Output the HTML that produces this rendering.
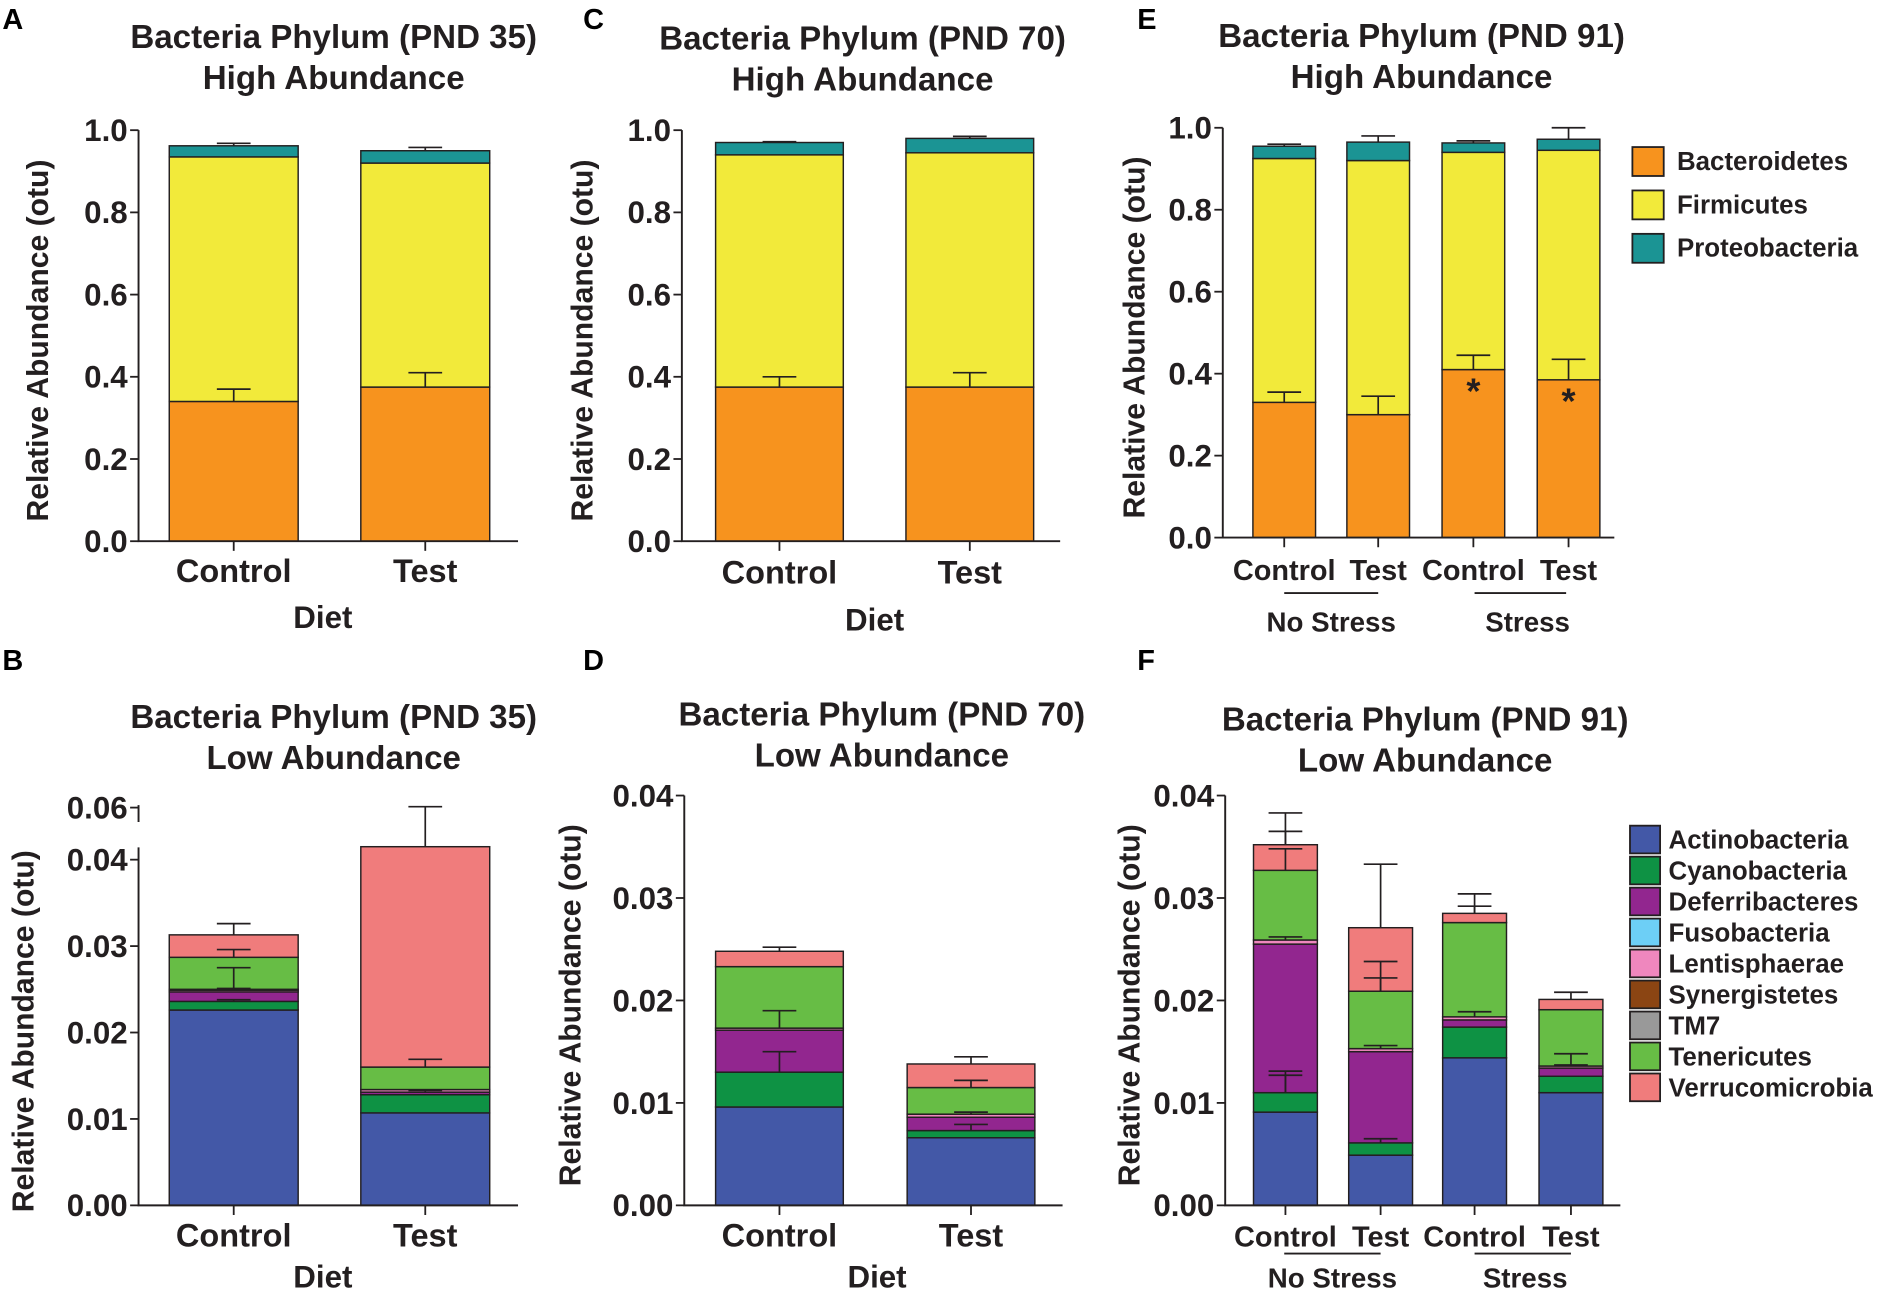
<!DOCTYPE html>
<html><head><meta charset="utf-8"><style>
html,body{margin:0;padding:0;background:#fff;}
svg{display:block;font-family:"Liberation Sans",Arial,sans-serif;font-weight:bold;}
</style></head><body>
<svg id="fig" width="1889" height="1303" viewBox="0 0 1568 1081" preserveAspectRatio="none" xmlns="http://www.w3.org/2000/svg"></svg>
<script>
// ---- Colors per phylum ----
const highNames = ["Bacteroidetes","Firmicutes","Proteobacteria"];
const highColors = ["#f7931e","#f2ea3a","#1b9494"];
const lowNames = ["Actinobacteria","Cyanobacteria","Deferribacteres","Fusobacteria","Lentisphaerae","Synergistetes","TM7","Tenericutes","Verrucomicrobia"];
const lowColors = ["#4358a7","#0e9244","#92268f","#6dcff6","#ef87be","#8b4513","#999999","#67bd45","#f07c7c"];

// ---- Panel A (PND 35 high) cumulative tops per bar ----
const catA = ["Control","Test"];
const stackA = [[0.34,0.935,0.962],[0.375,0.92,0.95]];
const errA = [[0.37,0.968],[0.41,0.958]];
// ---- Panel C (PND 70 high) ----
const catC = ["Control","Test"];
const stackC = [[0.375,0.94,0.97],[0.375,0.945,0.98]];
const errC = [[0.40,0.972],[0.41,0.985]];
// ---- Panel E (PND 91 high) ----
const catE = ["Control","Test","Control","Test"];
const stackE = [[0.33,0.925,0.955],[0.30,0.92,0.965],[0.41,0.94,0.963],[0.385,0.945,0.972]];
const errE = [[0.355,0.96],[0.345,0.98],[0.445,0.968],[0.435,1.0]];
const starE = [false,false,true,true];
const tickHigh = [0.0,0.2,0.4,0.6,0.8,1.0];
const tickHighLbl = ["0.0","0.2","0.4","0.6","0.8","1.0"];

// ---- Panel B (PND 35 low) cumulative tops (9 phyla) ----
const catB = ["Control","Test"];
const stackB = [[0.0226,0.0236,0.0247,0.0247,0.0249,0.0249,0.0250,0.0287,0.0313],
                [0.0107,0.0128,0.0131,0.0131,0.0134,0.0134,0.0134,0.0160,0.0415]];
const errB = [[0.0238,0.0251,0.0275,0.0296,0.0326],[0.0133,0.0169,0.0605]];
const tickB = [0.00,0.01,0.02,0.03,0.04,0.06];
const tickBLbl = ["0.00","0.01","0.02","0.03","0.04","0.06"];
// ---- Panel D (PND 70 low) ----
const catD = ["Control","Test"];
const stackD = [[0.0096,0.0130,0.0171,0.0171,0.0173,0.0173,0.0173,0.0233,0.0248],
                [0.0066,0.0073,0.0086,0.0086,0.0089,0.0089,0.0089,0.0115,0.0138]];
const errD = [[0.0150,0.0190,0.0252],[0.0079,0.0091,0.0122,0.0145]];
// ---- Panel F (PND 91 low) ----
const catF = ["Control","Test","Control","Test"];
const stackF = [[0.0091,0.0110,0.0255,0.0255,0.0259,0.0259,0.0259,0.0327,0.0352],
                [0.0049,0.0061,0.0150,0.0150,0.0153,0.0153,0.0153,0.0209,0.0271],
                [0.0144,0.0174,0.0181,0.0181,0.0184,0.0184,0.0184,0.0276,0.0285],
                [0.0110,0.0126,0.0134,0.0134,0.0136,0.0136,0.0136,0.0191,0.0201]];
const errF = [[0.0131,0.0127,0.0262,0.0348,0.0365,0.0383],[0.0065,0.0156,0.0222,0.0238,0.0333],[0.0189,0.0292,0.0304],[0.0137,0.0148,0.0208]];
const tickLow = [0.00,0.01,0.02,0.03,0.04];
const tickLowLbl = ["0.00","0.01","0.02","0.03","0.04"];

const NS="http://www.w3.org/2000/svg";
const svg=document.getElementById('fig');
function mk(tag,attrs,parent,txt){const e=document.createElementNS(NS,tag);for(const k in attrs)e.setAttribute(k,attrs[k]);if(txt!==undefined)e.textContent=txt;(parent||svg).appendChild(e);return e;}

function panel(o){
  const g=mk('g',{});
  
  
  const y=o.y;
  const L=mk('text',{x:o.letterX,y:o.letterY,'font-size':24},g,o.letter);
  
  
  const t1=mk('text',{x:o.titleX,y:o.titleY,'text-anchor':'middle','font-size':27.5,fill:'#231f20'},g,o.title1);
  
  
  const t2=mk('text',{x:o.titleX,y:o.titleY+34,'text-anchor':'middle','font-size':27.5,fill:'#231f20'},g,o.title2);
  
  
  const yl=mk('text',{x:0,y:0,transform:`translate(${o.ylabX},${(y(o.ticks[0])+o.topY)/2+4}) rotate(-90)`,'text-anchor':'middle','font-size':25,fill:'#231f20'},g,'Relative Abundance (otu)');
  
  
  const bw=o.barW;
  o.stack.forEach((s,i)=>{
    const cx=o.barX[i];
    let prev=0;
    s.forEach((v,j)=>{
      const r=mk('rect',{x:cx-bw/2,y:y(v),width:bw,height:Math.max(0,y(prev)-y(v)),fill:o.colors[j],stroke:'#231f20','stroke-width':1.2},g);
      
      
      prev=v;
    });
    o.err[i].forEach(ev=>{
      let base=0; s.forEach(v=>{if(v<=ev)base=v;});
      const e=mk('path',{d:`M${cx},${y(base)}V${y(ev)}M${cx-14},${y(ev)}H${cx+14}`,stroke:'#231f20','stroke-width':1.4,fill:'none'},g);
      
      
    });
    if(o.star&&o.star[i]){
      const st=mk('text',{x:cx,y:y(s[0])+28,'text-anchor':'middle','font-size':30,fill:'#231f20'},g,'*');
      
      
    }
    const tk=mk('line',{x1:cx,x2:cx,y1:y(0),y2:y(0)+8,stroke:'#231f20','stroke-width':1.5},g);
    
    
    const cl=mk('text',{x:cx,y:y(0)+o.catDy,'text-anchor':'middle','font-size':o.catFs,fill:'#231f20'},g,o.cats[i]);
    
    
  });
  const ax=mk('path',{d:o.axisPath||`M${o.axisX},${o.topY}V${y(0)}H${o.axisEnd}`,stroke:'#231f20','stroke-width':1.6,fill:'none'},g);
  
  
  o.ticks.forEach((t,k)=>{
    const yy=y(t);
    const tl=mk('line',{x1:o.axisX-7,x2:o.axisX,y1:yy,y2:yy,stroke:'#231f20','stroke-width':1.5},g);
    
    
    const tx=mk('text',{x:o.axisX-9,y:yy+9,'text-anchor':'end','font-size':26,fill:'#231f20'},g,o.tickLbl[k]);
    
    
  });
  return g;
}

function linY(y0,yTop,vTop){return v=>y0-(v/vTop)*(y0-yTop);}

panel({name:'panel-a',letter:'A',letterX:2,letterY:24,title1:'Bacteria Phylum (PND 35)',title2:'High Abundance',titleX:277,titleY:40,
  y:linY(449,108,1),topY:108,axisX:115,axisEnd:430,ylabX:40,stack:stackA,err:errA,cats:catA,barX:[194,353],barW:107,
  colors:highColors,series:highNames,ticks:tickHigh,tickLbl:tickHighLbl,catDy:34,catFs:27});
panel({name:'panel-c',letter:'C',letterX:484,letterY:24,title1:'Bacteria Phylum (PND 70)',title2:'High Abundance',titleX:716,titleY:41,
  y:linY(449,108,1),topY:108,axisX:566,axisEnd:880,ylabX:492,stack:stackC,err:errC,cats:catC,barX:[647,805],barW:106,
  colors:highColors,series:highNames,ticks:tickHigh,tickLbl:tickHighLbl,catDy:35,catFs:27});
panel({name:'panel-e',letter:'E',letterX:944,letterY:24,title1:'Bacteria Phylum (PND 91)',title2:'High Abundance',titleX:1180,titleY:39,
  y:linY(446,106,1),topY:106,axisX:1015,axisEnd:1340,ylabX:950,stack:stackE,err:errE,star:starE,cats:catE,barX:[1066,1144,1223,1302],barW:52,
  colors:highColors,series:highNames,ticks:tickHigh,tickLbl:tickHighLbl,catDy:35,catFs:24});

const yB=v=> v>0.045 ? 670-(v-0.06)*1500 : 1000-v*7170;
panel({name:'panel-b',letter:'B',letterX:2,letterY:556,title1:'Bacteria Phylum (PND 35)',title2:'Low Abundance',titleX:277,titleY:604,
  y:yB,topY:703,axisX:115,axisEnd:430,ylabX:28,stack:stackB,err:errB,cats:catB,barX:[194,353],barW:107,
  axisPath:'M115,703V1000H430M115,668V682',
  colors:lowColors,series:lowNames,ticks:tickB,tickLbl:tickBLbl,catDy:34,catFs:27});
panel({name:'panel-d',letter:'D',letterX:484,letterY:556,title1:'Bacteria Phylum (PND 70)',title2:'Low Abundance',titleX:732,titleY:602,
  y:linY(1000,660,0.04),topY:660,axisX:568,axisEnd:882,ylabX:482,stack:stackD,err:errD,cats:catD,barX:[647,806],barW:106,
  colors:lowColors,series:lowNames,ticks:tickLow,tickLbl:tickLowLbl,catDy:34,catFs:27});
panel({name:'panel-f',letter:'F',letterX:944,letterY:556,title1:'Bacteria Phylum (PND 91)',title2:'Low Abundance',titleX:1183,titleY:606,
  y:linY(1000,660,0.04),topY:660,axisX:1017,axisEnd:1345,ylabX:946,stack:stackF,err:errF,cats:catF,barX:[1067,1146,1224,1304],barW:53,
  colors:lowColors,series:lowNames,ticks:tickLow,tickLbl:tickLowLbl,catDy:34,catFs:24});

[['Diet',268,521],['Diet',726,523],['Diet',268,1068],['Diet',728,1068]].forEach(a=>{
  const t=mk('text',{x:a[1],y:a[2],'text-anchor':'middle','font-size':26,fill:'#231f20'},svg,a[0]);
  
  
});
[['No Stress',1105,1066,1144,492,524],['Stress',1268,1224,1300,492,524],['No Stress',1106,1066,1146,1040,1068],['Stress',1266,1224,1304,1040,1068]].forEach(a=>{
  const l=mk('line',{x1:a[2],x2:a[3],y1:a[4],y2:a[4],stroke:'#231f20','stroke-width':1.5});
  
  
  const t=mk('text',{x:a[1],y:a[5],'text-anchor':'middle','font-size':23,fill:'#231f20'},svg,a[0]);
  
  
});

highNames.forEach((n,i)=>{
  const r=mk('rect',{x:1355,y:122+i*36,width:26,height:24,fill:highColors[i],stroke:'#231f20','stroke-width':1.5});
  
  
  const t=mk('text',{x:1392,y:141+i*36,'font-size':21.5,fill:'#231f20'},svg,n);
  
  
});
lowNames.forEach((n,i)=>{
  const r=mk('rect',{x:1353,y:685+i*25.7,width:25,height:23,fill:lowColors[i],stroke:'#231f20','stroke-width':1.5});
  
  
  const t=mk('text',{x:1385,y:704+i*25.7,'font-size':21.5,fill:'#231f20'},svg,n);
  
  
});
</script>
</body></html>
